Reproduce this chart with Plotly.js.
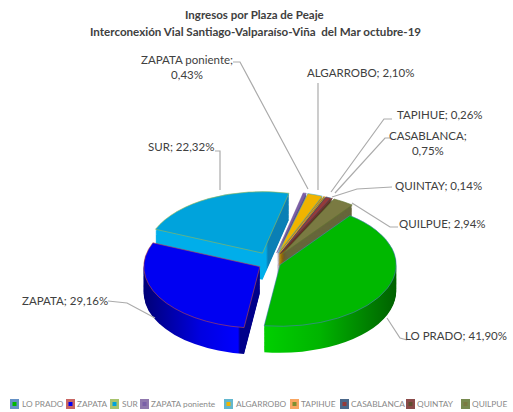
<!DOCTYPE html>
<html><head><meta charset="utf-8">
<script src="https://cdn.plot.ly/plotly-3.0.0.min.js"></script>
<style>html,body{margin:0;padding:0;background:#fff}#c{width:513px;height:412px}</style>
</head><body><div id="c"></div>
<script>
const categories=["LO PRADO","ZAPATA","SUR","ZAPATA poniente","ALGARROBO","TAPIHUE","CASABLANCA","QUINTAY","QUILPUE"];
const shares=[41.90,29.16,22.32,0.43,2.10,0.26,0.75,0.14,2.94];
const topColors=["#00b800","#0000f2","#00a3dc","#7a5fa8","#f0b400","#7f8f30","#943a3a","#5f5030","#7a7a42"];
const sideColors=["#00a000","#0000b0","#0a80b5","#5a4580","#b08800","#5f6a25","#6e2b2b","#463b24","#66663a"];
const edgeColors=["#4a7ebb","#be4b48","#98b954","#7d60a0","#46aac5","#f79646","#2c4d75","#772c2a","#5f7530"];
const pulls=[0.075,0.12,0.18,0.17,0.17,0.17,0.17,0.17,0.17];
const W=513,H=412,R=137,CX=272,CY=263,K=0.53,TOPY=220,DEPTH=50,STEP=2;
const fmt=v=>v.toFixed(2).replace('.',',');
const label=(i,br)=>categories[i]+';'+(br?'<br>':' ')+fmt(shares[i])+'%';
const traces=[];
for(let d=DEPTH;d>=0;d-=STEP){
  const cy=TOPY+d;
  traces.push({type:'pie',values:shares,labels:categories,sort:false,direction:'clockwise',rotation:37,pull:pulls,
    textinfo:'none',hoverinfo:'skip',showlegend:false,
    domain:{x:[(CX-R)/W,(CX+R)/W],y:[1-(cy+R)/H,1-(cy-R)/H]},
    marker:{colors:d===0?topColors:sideColors,line:{width:d===0?0.8:0,color:d===0?edgeColors:sideColors}}});
}
const ann=(text,x,y,size,extra)=>Object.assign({text,xref:'paper',yref:'paper',x:x/W,y:1-y/H,xanchor:'center',yanchor:'middle',showarrow:false,font:{family:'Lato, Carlito, sans-serif',size:size,color:'#404040'}},extra||{});
const annotations=[
 ann('<b>Ingresos por Plaza de Peaje</b>',254,15,11.5,{font:{family:'Lato',size:11.5,color:'#404040'}}),
 ann('<b>Interconexión Vial Santiago-Valparaíso-Viña  del Mar octubre-19</b>',255,32,11.6,{font:{family:'Lato',size:11.6,color:'#404040'}}),
 ann(label(3,true),187,67,11.5),
 ann(label(4),360,72,11.5),
 ann(label(5),440,114,11.5),
 ann(label(6,true),428,143,11.5),
 ann(label(7),438,185,11.5),
 ann(label(8),442,223,11.5),
 ann(label(0),456,335,11.5),
 ann(label(1),65,300,11.5),
 ann(label(2),181,146,11.5)
];
const leaders=[
 [[233,62],[240,62],[308,189]],
 [[318,83],[318,190]],
 [[392,119],[384,119],[331,192]],
 [[390,138],[385,138],[335,193]],
 [[392,187],[357,189],[332,197]],
 [[398,227],[390,227],[352,203]],
 [[407,340],[400,338],[387,318]],
 [[108,301],[127,303],[155,318]],
 [[215,151],[220,151],[220,190]]
];
const shapes=leaders.map(pts=>({type:'path',xref:'paper',yref:'paper',
  path:pts.map((p,i)=>(i?'L':'M')+(p[0]/W)+','+(1-p[1]/H)).join(' '),line:{color:'#ababab',width:1.2}}));
const legendSwatchX=[10,66,110,140,224,290,340,406,461];
const legendTextX=[21,76,121,150,235,300,350,416,471];
const LY=404;
legendSwatchX.forEach((x,i)=>{
  shapes.push({type:'rect',xref:'paper',yref:'paper',x0:x/W,x1:(x+9)/W,y0:1-(LY+5)/H,y1:1-(LY-5)/H,fillcolor:edgeColors[i],opacity:0.85,line:{width:0}});
  shapes.push({type:'rect',xref:'paper',yref:'paper',x0:(x+2.5)/W,x1:(x+6.5)/W,y0:1-(LY+2)/H,y1:1-(LY-2)/H,fillcolor:topColors[i],line:{width:0}});
  annotations.push(Object.assign(ann(categories[i],legendTextX[i],LY,8.3,{font:{family:'Lato',size:8.3,color:'#8a8a8a'}}),{xanchor:'left',xshift:-1}));
});
const layout={width:W,height:H,margin:{l:0,r:0,t:0,b:0},paper_bgcolor:'#fff',showlegend:false,annotations,shapes};
Plotly.newPlot('c',traces,layout,{staticPlot:true,displayModeBar:false}).then(gd=>{
  const svg=gd.querySelector('.main-svg');
  const ns='http://www.w3.org/2000/svg';
  const defs=document.createElementNS(ns,'defs');
  const grads={
    0:[[262,'#00d000'],[320,'#00b400'],[398,'#005f00']],
    1:[[146,'#00007a'],[200,'#0000e0'],[238,'#0000ff'],[240,'#00008a'],[262,'#00008a']],
    2:[[163,'#00aeea'],[266,'#00aeea'],[268,'#0a7fb5'],[300,'#0a7fb5']]
  };
  Object.keys(grads).forEach(k=>{
    const g=document.createElementNS(ns,'linearGradient');
    g.setAttribute('id','side'+k);g.setAttribute('gradientUnits','userSpaceOnUse');
    const xs=grads[k];g.setAttribute('x1',xs[0][0]);g.setAttribute('x2',xs[xs.length-1][0]);g.setAttribute('y1',0);g.setAttribute('y2',0);
    const span=xs[xs.length-1][0]-xs[0][0];
    xs.forEach(s=>{const st=document.createElementNS(ns,'stop');st.setAttribute('offset',(s[0]-xs[0][0])/span);st.setAttribute('stop-color',s[1]);g.appendChild(st);});
    defs.appendChild(g);
  });
  svg.appendChild(defs);
  const layer=gd.querySelector('.pielayer');
  layer.setAttribute('transform','translate(0,'+CY+') scale(1,'+K+') translate(0,'+(-TOPY)+')');
  const groups=layer.querySelectorAll('.trace');
  groups.forEach((t,ti)=>{
    if(ti===groups.length-1)return;
    t.querySelectorAll('.slice').forEach((s,si)=>{
      if(grads[si]){s.querySelector('path').style.fill='url(#side'+si+')';}
    });
  });
});
</script></body></html>
